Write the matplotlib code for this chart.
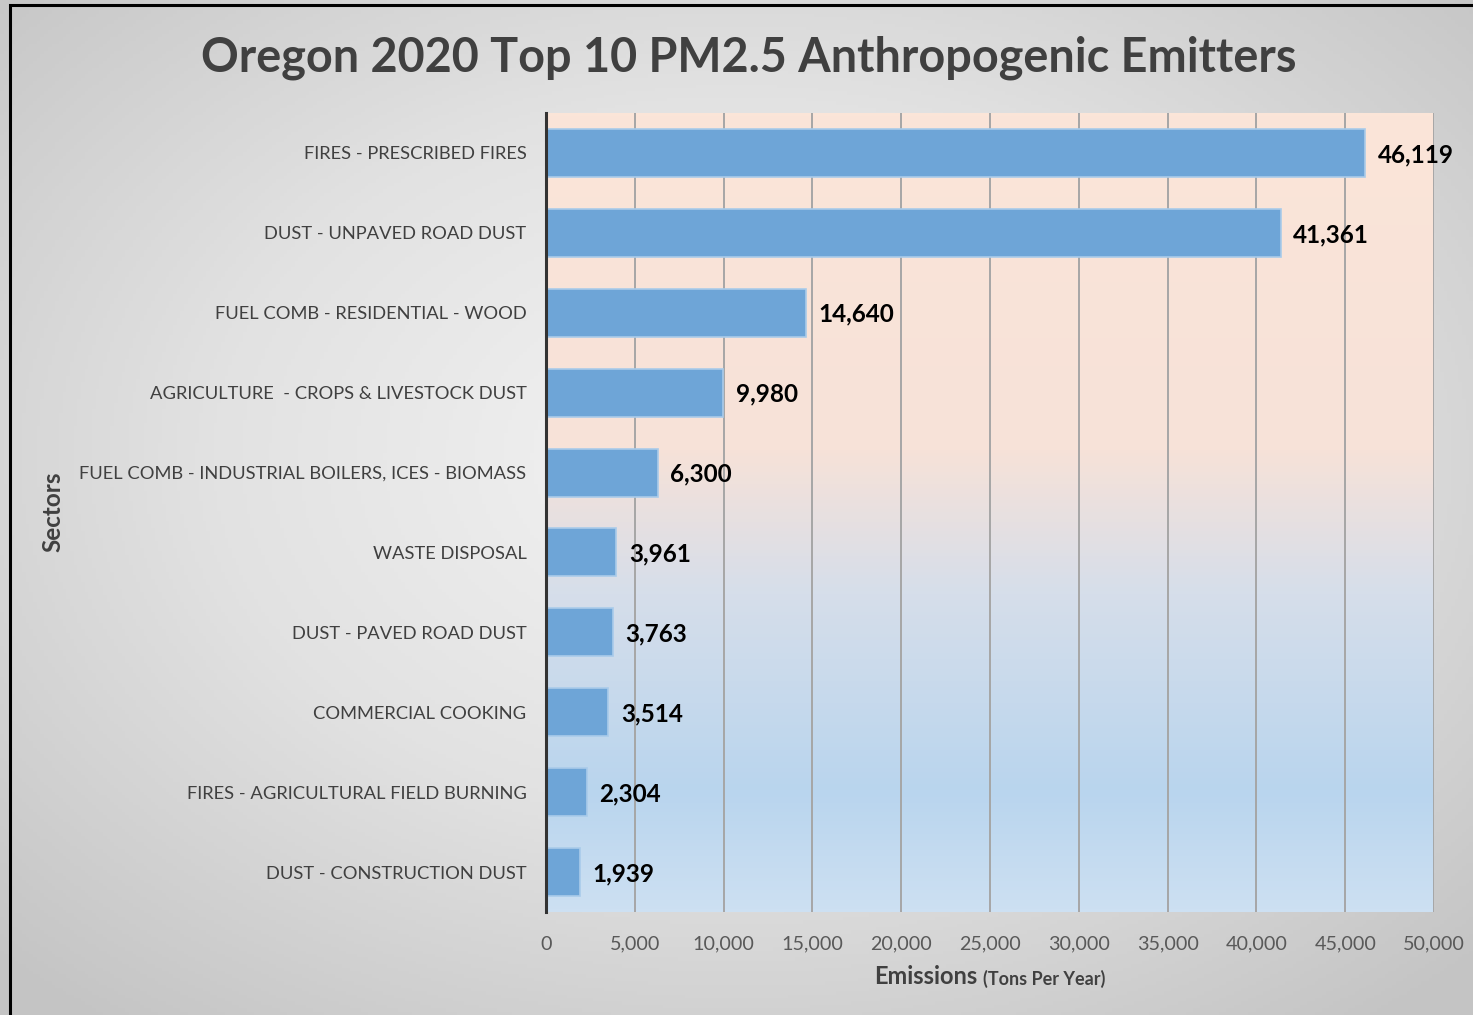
import numpy as np
import matplotlib.pyplot as plt
from matplotlib.colors import LinearSegmentedColormap
from matplotlib.patches import Rectangle

plt.rcParams['font.family'] = ['Lato', 'DejaVu Sans']

sectors = ['FIRES - PRESCRIBED FIRES', 'DUST - UNPAVED ROAD DUST', 'FUEL COMB - RESIDENTIAL - WOOD',
           'AGRICULTURE  - CROPS & LIVESTOCK DUST', 'FUEL COMB - INDUSTRIAL BOILERS, ICES - BIOMASS',
           'WASTE DISPOSAL', 'DUST - PAVED ROAD DUST', 'COMMERCIAL COOKING',
           'FIRES - AGRICULTURAL FIELD BURNING', 'DUST - CONSTRUCTION DUST']
emissions = [46119, 41361, 14640, 9980, 6300, 3961, 3763, 3514, 2304, 1939]
xticks = [0, 5000, 10000, 15000, 20000, 25000, 30000, 35000, 40000, 45000, 50000]

W, H = 1473, 1015
fig = plt.figure(figsize=(W / 100, H / 100), dpi=100)

# gray radial background of the chart area
bg = fig.add_axes([0, 0, 1, 1], zorder=-10)
yy, xx = np.mgrid[0:1:300j, 0:1:400j]
r = np.sqrt(((xx - 0.5) / 0.75) ** 2 + ((yy - 0.45) / 0.75) ** 2)
bg.imshow(r, cmap=LinearSegmentedColormap.from_list('g', ['#f4f4f4', '#e2e2e2', '#c4c4c4']),
          extent=[0, 1, 0, 1], aspect='auto', vmin=0, vmax=0.95)
bg.add_patch(Rectangle((10 / W, -0.01), 1.1, 1 - 5 / H + 0.01, fill=False, ec='black', lw=2.2,
                       transform=bg.transAxes))
bg.set_xlim(0, 1)
bg.set_ylim(0, 1)
bg.axis('off')

ax = fig.add_axes([546 / W, 103 / H, (1434 - 546) / W, (912 - 113) / H])
ax.set_facecolor('none')

# plot area gradient: peach at the top, light blue at the bottom
grad = np.linspace(0, 1, 256).reshape(-1, 1)
pcmap = LinearSegmentedColormap.from_list('p', [(0, '#fbe5d8'), (0.42, '#f7e2d8'), (0.6, '#d6deea'),
                                                (0.85, '#b9d5ee'), (1, '#cde0f2')])
ax.imshow(grad, cmap=pcmap, extent=[0, 1, 0, 1], aspect='auto', transform=ax.transAxes, zorder=0)

y = np.arange(len(sectors))
ax.barh(y, emissions, height=0.6, color='#6ea5d7', edgecolor='#a9cbea', linewidth=1.2, zorder=3)
for yi, v in zip(y, emissions):
    ax.text(v + 700, yi + 0.02, f'{v:,}', va='center', ha='left', fontsize=17.5, fontweight='bold',
            color='black', zorder=4)

ax.set_xlim(0, 50000)
ax.set_ylim(len(sectors) - 0.5, -0.5)
ax.set_xticks(xticks)
ax.set_xticklabels([f'{t:,}' for t in xticks], fontsize=14.2, color='#595959')
ax.set_yticks(y)
ax.set_yticklabels(sectors, fontsize=13.2, color='#404040')
ax.tick_params(length=0, pad=14, axis='y')
ax.tick_params(length=0, pad=17, axis='x')
ax.grid(axis='x', color='#a6a6a6', lw=1.4, zorder=1)
ax.set_axisbelow(True)
for s in ['top', 'right', 'bottom']:
    ax.spines[s].set_visible(False)
ax.spines['left'].set_color('#333333')
ax.spines['left'].set_linewidth(2.2)
ax.spines['left'].set_zorder(5)

fig.text(749 / W, 1 - 58 / H, 'Oregon 2020 Top 10 PM2.5 Anthropogenic Emitters', ha='center', va='center',
         fontsize=33.7, fontweight='bold', color='#404040')
fig.text(53 / W, 1 - 512 / H, 'Sectors', rotation=90, ha='center', va='center', fontsize=17.5,
         fontweight='bold', color='#404040')
fig.text(977 / W, 1 - 977 / H, 'Emissions', ha='right', va='center', fontsize=17, fontweight='bold',
         color='#404040')
fig.text(983 / W, 1 - 979 / H, '(Tons Per Year)', ha='left', va='center', fontsize=13,
         fontweight='bold', color='#404040')

fig.savefig('out.png', dpi=100)
